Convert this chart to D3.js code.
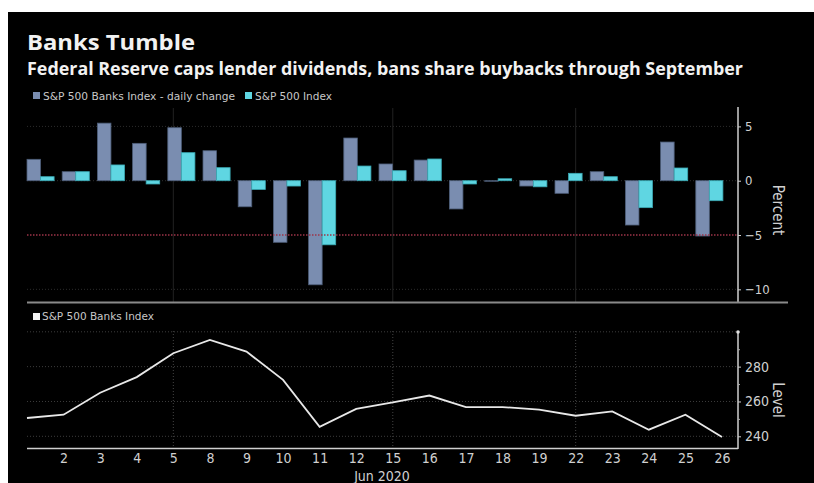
<!DOCTYPE html>
<html>
<head>
<meta charset="utf-8">
<script src="https://cdn.jsdelivr.net/npm/d3@7"></script>
<style>
  body { margin: 0; background: #fff; }
  svg { display: block; }
  .tick text { fill: #d0d0d0; font-family: "DejaVu Sans Condensed", "DejaVu Sans", sans-serif; }
</style>
</head>
<body>
<svg id="mainSvg" width="814" height="483"></svg>
<script>
// trading days, June 2020
var days = ["1","2","3","4","5","8","9","10","11","12","15","16","17","18","19","22","23","24","25","26"];
// daily % change
var banksChange = [1.97, 0.83, 5.3, 3.44, 4.88, 2.76, -2.4, -5.67, -9.58, 3.93, 1.54, 1.9, -2.6, -0.05, -0.49, -1.16, 0.83, -4.08, 3.56, -5.09];
var spxChange   = [0.37, 0.83, 1.45, -0.3, 2.58, 1.2, -0.8, -0.49, -5.9, 1.35, 0.92, 2.0, -0.3, 0.18, -0.56, 0.68, 0.37, -2.48, 1.17, -1.84];
// S&P 500 Banks index level
var banksLevel = [250.5, 252.4, 265, 274, 287.7, 295.3, 288.6, 272.4, 245.4, 255.7, 259.5, 263.4, 256.8, 256.8, 255.3, 251.8, 254.3, 243.8, 252.4, 239.6];
var percentTicks = [5, 0, -5, -10];
var levelTicks = [240, 260, 280];
var levelMinor = [250, 270, 290];
var weekLines = ["5", "15", "22"];
var seriesNames = ["S&P 500 Banks Index - daily change", "S&P 500 Index"];
var seriesColors = ["#7a8db0", "#5fd6e2"];

var svg = d3.select("#mainSvg");
svg.append("rect").attr("x", 8).attr("y", 12).attr("width", 806).attr("height", 471).attr("fill", "#000");

svg.append("text").attr("x", 27).attr("y", 50)
  .attr("fill", "#f2f2f2").style("font-family", "'Open Sans', sans-serif")
  .style("font-weight", "bold").style("font-size", "22px")
  .attr("textLength", 168).attr("lengthAdjust", "spacingAndGlyphs")
  .text("Banks Tumble");
svg.append("text").attr("x", 27).attr("y", 75)
  .attr("fill", "#f2f2f2").style("font-family", "'Open Sans', sans-serif")
  .style("font-weight", "bold").style("font-size", "17px")
  .attr("textLength", 716).attr("lengthAdjust", "spacingAndGlyphs")
  .text("Federal Reserve caps lender dividends, bans share buybacks through September");

// legend top
var legX = [33, 245], legW = [192, 77];
seriesNames.forEach(function(n, i) {
  svg.append("rect").attr("x", legX[i]).attr("y", 92).attr("width", 7).attr("height", 7).attr("fill", seriesColors[i]);
  svg.append("text").attr("x", legX[i] + 10).attr("y", 100)
    .attr("fill", "#c8c8c8").style("font-family", "'DejaVu Sans Condensed', sans-serif").style("font-size", "10px")
    .attr("textLength", legW[i]).attr("lengthAdjust", "spacingAndGlyphs")
    .text(n);
});

var left = 27, axisX = 738;

// scales
var xBand = d3.scaleBand().domain(days).range([left, 731]).paddingInner(0.23).paddingOuter(0.115).align(0);
var xSub = d3.scaleBand().domain([0, 1]).range([0, xBand.bandwidth()]);
var xPt = d3.scalePoint().domain(days).range([left, 722]);
var yTop = d3.scaleLinear().domain([-11, 6.5]).range([300.2, 110.1]);
var yBot = d3.scaleLinear().domain([233, 300]).range([448.5, 331.8]);

// ---- top panel ----
var topG = svg.append("g");
topG.selectAll(".vgrid").data(weekLines).enter().append("line")
  .attr("x1", function(d) { return xPt(d); }).attr("x2", function(d) { return xPt(d); })
  .attr("y1", 108).attr("y2", 302).attr("stroke", "#222").attr("stroke-width", 1);
topG.selectAll(".hgrid").data([5, 0, -10]).enter().append("line")
  .attr("x1", left).attr("x2", axisX).attr("y1", function(d) { return yTop(d); }).attr("y2", function(d) { return yTop(d); })
  .attr("stroke", "#2c2c2c").attr("stroke-dasharray", "1,2");

var groups = topG.selectAll(".day").data(days).enter().append("g")
  .attr("transform", function(d) { return "translate(" + xBand(d) + ",0)"; });
[banksChange, spxChange].forEach(function(vals, s) {
  groups.append("rect")
    .attr("x", xSub(s))
    .attr("width", xSub.bandwidth())
    .attr("y", function(d, i) { return yTop(Math.max(0, vals[i])); })
    .attr("height", function(d, i) { return Math.abs(yTop(vals[i]) - yTop(0)); })
    .attr("fill", seriesColors[s])
    .attr("stroke", s == 0 ? "#4d5d78" : "#3aa9b4").attr("stroke-width", 0.8);
});

topG.append("line").attr("x1", left).attr("x2", axisX).attr("y1", yTop(-5)).attr("y2", yTop(-5))
  .attr("stroke", "#9c3448").attr("stroke-width", 1.5).attr("stroke-dasharray", "1.5,1.5");

var yAxTop = topG.append("g").attr("transform", "translate(" + axisX + ",0)")
  .call(d3.axisRight(yTop).tickValues(percentTicks).tickSize(3).tickPadding(4).tickFormat(function(d) { return d < 0 ? "\u2212" + (-d) : d; }));
yAxTop.select(".domain").attr("stroke", "#cfcfcf").attr("stroke-width", 1.5).attr("d", "M0,107V302");
yAxTop.selectAll(".tick line").attr("stroke", "#cfcfcf");
yAxTop.selectAll(".tick text").style("font-size", "13px");

topG.append("text").attr("transform", "translate(773,210) rotate(90)")
  .attr("text-anchor", "middle").attr("fill", "#d0d0d0")
  .style("font-family", "'DejaVu Sans Condensed', sans-serif").style("font-size", "15px").text("Percent");

svg.append("line").attr("x1", left).attr("x2", 788).attr("y1", 302.5).attr("y2", 302.5)
  .attr("stroke", "#8a8a8a").attr("stroke-width", 2);

// ---- bottom panel ----
var botG = svg.append("g");
botG.append("rect").attr("x", 33).attr("y", 313).attr("width", 7).attr("height", 7).attr("fill", "#f2f2f2");
botG.append("text").attr("x", 42).attr("y", 320).attr("fill", "#c8c8c8")
  .style("font-family", "'DejaVu Sans Condensed', sans-serif").style("font-size", "10px")
  .attr("textLength", 112).attr("lengthAdjust", "spacingAndGlyphs")
  .text("S&P 500 Banks Index");

botG.selectAll(".vgrid").data(weekLines).enter().append("line")
  .attr("x1", function(d) { return xPt(d); }).attr("x2", function(d) { return xPt(d); })
  .attr("y1", 331).attr("y2", 448).attr("stroke", "#444").attr("stroke-dasharray", "1,2");
botG.selectAll(".hgrid").data(levelTicks.concat([300])).enter().append("line")
  .attr("x1", left).attr("x2", axisX).attr("y1", function(d) { return yBot(d); }).attr("y2", function(d) { return yBot(d); })
  .attr("stroke", "#3c3c3c").attr("stroke-dasharray", "1,2");

var line = d3.line().x(function(d, i) { return xPt(days[i]); }).y(function(d) { return yBot(d); });
botG.append("path").datum(banksLevel).attr("d", line)
  .attr("fill", "none").attr("stroke", "#e8e8e8").attr("stroke-width", 1.8);

var xAx = botG.append("g").attr("transform", "translate(0,448.5)")
  .call(d3.axisBottom(xPt).tickValues(days.slice(1)).tickSize(0).tickPadding(5));
xAx.select(".domain").attr("stroke", "#cfcfcf").attr("stroke-width", 1.5).attr("d", "M" + left + ",0H" + axisX);
xAx.selectAll(".tick text").style("font-size", "14px");

var yAxBot = botG.append("g").attr("transform", "translate(" + axisX + ",0)")
  .call(d3.axisRight(yBot).tickValues(levelTicks).tickSize(3).tickPadding(4));
yAxBot.select(".domain").attr("stroke", "#cfcfcf").attr("stroke-width", 1.5).attr("d", "M0,331V449");
yAxBot.selectAll(".tick line").attr("stroke", "#cfcfcf");
yAxBot.selectAll(".tick text").style("font-size", "14px");
botG.append("g").attr("transform", "translate(" + axisX + ",0)")
  .call(d3.axisRight(yBot).tickValues(levelMinor).tickSize(2).tickFormat(""))
  .call(function(g) { g.select(".domain").remove(); g.selectAll("line").attr("stroke", "#aaa"); });
botG.append("circle").attr("cx", axisX).attr("cy", 332).attr("r", 1.8).attr("fill", "#e0e0e0");

botG.append("text").attr("transform", "translate(773,400) rotate(90)")
  .attr("text-anchor", "middle").attr("fill", "#d0d0d0")
  .style("font-family", "'DejaVu Sans Condensed', sans-serif").style("font-size", "15px").text("Level");

botG.append("text").attr("x", 382).attr("y", 481).attr("text-anchor", "middle").attr("fill", "#d0d0d0")
  .style("font-family", "'DejaVu Sans Condensed', sans-serif").style("font-size", "14px").text("Jun 2020");
</script>
</body>
</html>
